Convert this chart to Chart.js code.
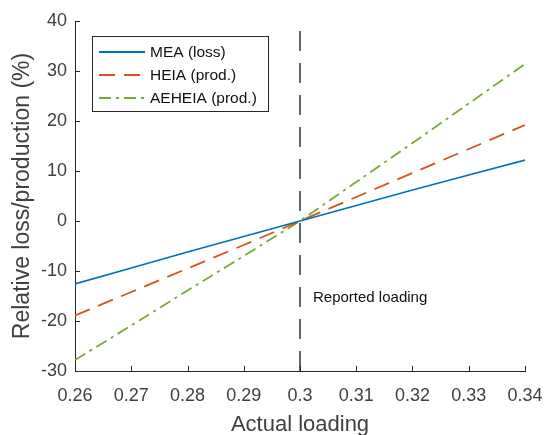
<!DOCTYPE html>
<html>
<head>
<meta charset="utf-8">
<script src="https://cdn.jsdelivr.net/npm/chart.js@4/dist/chart.umd.min.js"></script>
<style>
  html, body { margin: 0; padding: 0; background: #fff; }
  #wrap { width: 547px; height: 435px; }
</style>
</head>
<body>
<div id="wrap"><canvas id="chart" width="547" height="435"></canvas></div>
<script>
const loading = [0.26, 0.27, 0.28, 0.29, 0.30, 0.31, 0.32, 0.33, 0.34];
const meaLoss = [-12.6, -9.4, -6.2, -3.1, 0, 3.1, 6.2, 9.2, 12.2];
const heiaProd = [-18.9, -14.2, -9.5, -4.8, 0, 4.8, 9.6, 14.4, 19.2];
const aeheiaProd = [-27.8, -20.9, -13.9, -7.0, 0, 7.8, 15.6, 23.5, 31.4];
const reportedLoading = 0.3;
const yRange = [-30, 40];
const seriesNames = ['MEA (loss)', 'HEIA (prod.)', 'AEHEIA (prod.)'];
const seriesColors = ['#0072BD', '#D95319', '#77AC30'];
const seriesDash = [[], [16, 9], [12, 5, 3, 5]];

const FONT = '"Liberation Sans", Arial, sans-serif';
const AXIS = '#262626';
const TEXT = '#404040';

const toXY = arr => arr.map((v, i) => ({ x: loading[i], y: v }));

// inward tick marks, legend box and annotation text
const extras = {
  id: 'extras',
  afterDraw(chart) {
    const { ctx, chartArea: a, scales } = chart;
    ctx.save();
    ctx.strokeStyle = AXIS;
    ctx.lineWidth = 1;
    ctx.beginPath();
    scales.x.ticks.forEach(t => {
      const px = Math.round(scales.x.getPixelForValue(t.value)) + 0.5;
      ctx.moveTo(px, a.bottom);
      ctx.lineTo(px, a.bottom - 5);
    });
    scales.y.ticks.forEach(t => {
      const py = Math.round(scales.y.getPixelForValue(t.value)) + 0.5;
      ctx.moveTo(a.left, py);
      ctx.lineTo(a.left + 5, py);
    });
    ctx.stroke();

    // annotation
    ctx.fillStyle = '#111';
    ctx.font = '15px ' + FONT;
    ctx.textBaseline = 'middle';
    ctx.fillText('Reported loading', scales.x.getPixelForValue(reportedLoading) + 13, 298);

    // legend
    const bx = 92.5, by = 36.5, bw = 176, bh = 75;
    ctx.fillStyle = '#fff';
    ctx.fillRect(bx, by, bw, bh);
    ctx.strokeStyle = AXIS;
    ctx.strokeRect(bx, by, bw, bh);
    ctx.font = '15.5px ' + FONT;
    seriesNames.forEach((name, i) => {
      const y = 52 + i * 23;
      ctx.strokeStyle = seriesColors[i];
      ctx.lineWidth = 1.8;
      ctx.setLineDash(seriesDash[i]);
      ctx.beginPath();
      ctx.moveTo(99, y);
      ctx.lineTo(145, y);
      ctx.stroke();
      ctx.setLineDash([]);
      ctx.fillStyle = '#111';
      ctx.fillText(name, 150, y + 1);
    });
    ctx.restore();
  }
};

new Chart(document.getElementById('chart'), {
  type: 'line',
  data: {
    datasets: [
      { label: seriesNames[0], data: toXY(meaLoss), borderColor: seriesColors[0], borderDash: seriesDash[0], borderWidth: 1.8, pointRadius: 0, tension: 0 },
      { label: seriesNames[1], data: toXY(heiaProd), borderColor: seriesColors[1], borderDash: seriesDash[1], borderWidth: 1.8, pointRadius: 0, tension: 0 },
      { label: seriesNames[2], data: toXY(aeheiaProd), borderColor: seriesColors[2], borderDash: seriesDash[2], borderWidth: 1.8, pointRadius: 0, tension: 0 },
      { label: 'Reported loading', data: [{ x: reportedLoading, y: yRange[0] }, { x: reportedLoading, y: yRange[1] }], borderColor: '#111', borderDash: [20, 12], borderWidth: 1.3, pointRadius: 0 }
    ]
  },
  options: {
    responsive: false,
    animation: false,
    layout: { padding: { top: 21, right: 22, left: 0, bottom: 0 } },
    plugins: { legend: { display: false }, tooltip: { enabled: false } },
    scales: {
      x: {
        type: 'linear',
        min: 0.26, max: 0.34,
        afterFit: s => { s.height = 64; s.paddingLeft = 0; s.paddingRight = 0; },
        ticks: {
          stepSize: 0.01,
          color: TEXT,
          font: { family: FONT, size: 18 },
          padding: 14,
          maxRotation: 0,
          callback: v => String(Number(v.toFixed(2)))
        },
        grid: { drawOnChartArea: false, drawTicks: false },
        border: { color: AXIS, width: 1 },
        title: { display: true, text: 'Actual loading', color: TEXT, font: { family: FONT, size: 22 }, padding: { top: 0, bottom: -3 } }
      },
      y: {
        min: yRange[0], max: yRange[1],
        afterFit: s => { s.width = 75; s.paddingTop = 0; s.paddingBottom = 0; },
        ticks: {
          stepSize: 10,
          color: TEXT,
          font: { family: FONT, size: 18 },
          padding: 8
        },
        grid: { drawOnChartArea: false, drawTicks: false },
        border: { color: AXIS, width: 1 },
        title: { display: true, text: 'Relative loss/production (%)', color: TEXT, font: { family: FONT, size: 23 }, padding: { top: 9, bottom: 0 } }
      }
    }
  },
  plugins: [extras]
});
</script>
</body>
</html>
